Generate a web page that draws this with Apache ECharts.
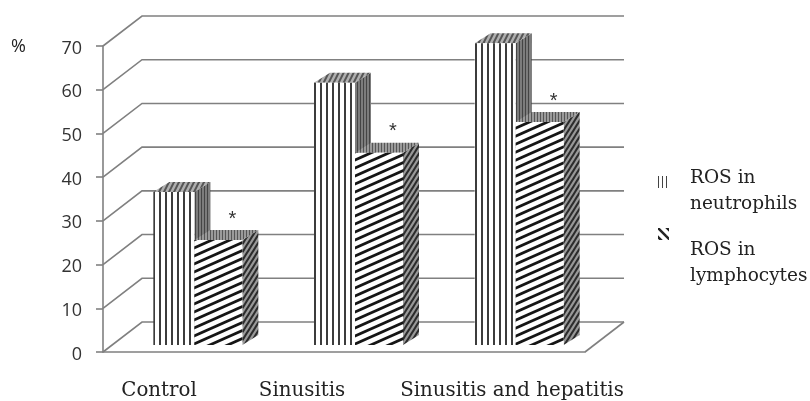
<!DOCTYPE html>
<html>
<head>
<meta charset="utf-8">
<style>
  html, body { margin: 0; padding: 0; background: #fff; }
  #chart { width: 810px; height: 401px; }
</style>
<script src="https://cdn.jsdelivr.net/npm/echarts@6/dist/echarts.min.js"></script>
</head>
<body>
<div id="chart"></div>
<script>
// data
const categories = ['Control', 'Sinusitis', 'Sinusitis and hepatitis'];
const neutrophils = [35, 60, 69];
const lymphocytes = [24, 44, 51];
const yTicks = [0, 10, 20, 30, 40, 50, 60, 70];
const seriesNames = ['ROS in\nneutrophils', 'ROS in\nlymphocytes'];

const GRAY = '#808080';
const WALL = [39, -30];      // depth of the back wall
const BAR_DEPTH = [16, -10]; // depth of one bar
const BAR_LIFT = -7;         // bars stand a little behind the front edge

// striped tiles
function tile(w, h, bg, draw) {
    let c = document.createElement('canvas');
    c.width = w;
    c.height = h;
    let ctx = c.getContext('2d');
    ctx.fillStyle = bg || '#fff';
    ctx.fillRect(0, 0, w, h);
    draw(ctx);
    return { image: c, repeat: 'repeat' };
}
function vStripes(period, width, color, bg) {
    return tile(period, 4, bg, function (ctx) {
        ctx.fillStyle = color;
        ctx.fillRect(0, 0, width, 4);
    });
}
function diagonal(w, h, lw, color, bg, down) {
    return tile(w, h, bg, function (ctx) {
        ctx.strokeStyle = color;
        ctx.lineWidth = lw;
        if (down) {
            ctx.translate(w, 0);
            ctx.scale(-1, 1);
        }
        for (let i = -1; i <= 1; i++) {
            ctx.beginPath();
            ctx.moveTo(-w, 2 * h + i * h);
            ctx.lineTo(2 * w, i * h - h);
            ctx.stroke();
        }
    });
}
const patterns = [
    {
        front: vStripes(6, 2, '#3c3c3c'),
        side: vStripes(3, 1, '#444', '#7c7c7c'),
        top: diagonal(5, 10, 2, '#555', '#b0b0b0'),
        key: vStripes(4, 1, '#444')
    },
    {
        front: diagonal(18, 8, 2.8, '#151515'),
        side: diagonal(5, 8, 2, '#2c2c2c', '#999'),
        top: vStripes(3, 1, '#555', '#9a9a9a'),
        key: diagonal(9, 9, 2.5, '#222', '#fff', true)
    }
];

// one 3d bar: front, top and side faces, placed with the axis scale
function barItem(leftOff, width, pat, star) {
    return function (params, api) {
        let idx = api.value(0);
        let top = api.coord([idx, api.value(1)]);
        let base = api.coord([idx, 0]);
        let x = top[0] + leftOff;
        let y = top[1] + BAR_LIFT;
        let h = base[1] + BAR_LIFT - y;
        let dx = BAR_DEPTH[0], dy = BAR_DEPTH[1];
        let shapes = [
            {
                type: 'polygon',
                shape: { points: [[x + width, y], [x + width + dx, y + dy], [x + width + dx, y + h + dy], [x + width, y + h]] },
                style: { fill: pat.side }
            },
            {
                type: 'polygon',
                shape: { points: [[x, y], [x + dx, y + dy], [x + width + dx, y + dy], [x + width, y]] },
                style: { fill: pat.top }
            },
            {
                type: 'rect',
                shape: { x: x, y: y, width: width, height: h },
                // start the stripes at the bar's own left edge
                style: { fill: Object.assign({}, pat.front, { x: Math.round(x), y: 0 }) }
            }
        ];
        if (star) {
            shapes.push({
                type: 'text',
                style: {
                    text: '*', x: x + width - 10, y: y - 21, fill: '#333',
                    font: '20px "Liberation Sans"', align: 'center', verticalAlign: 'middle'
                }
            });
        }
        return { type: 'group', children: shapes };
    };
}

// back wall lines, one per tick, plus the floor edge
function wallItem(params, api) {
    let v = api.value(0);
    let y = api.coord([0, v])[1];
    let left = params.coordSys.x;
    let right = left + params.coordSys.width;
    let children = [{
        type: 'polyline',
        shape: { points: [[left, y], [left + WALL[0], y + WALL[1]], [right + WALL[0], y + WALL[1]]] },
        style: { stroke: GRAY, lineWidth: 1.6, fill: 'none' }
    }];
    if (v === 0) {
        children.push({
            type: 'line',
            shape: { x1: right, y1: y, x2: right + WALL[0], y2: y + WALL[1] },
            style: { stroke: GRAY, lineWidth: 1.6 }
        });
    }
    return { type: 'group', children: children };
}

let myChart = echarts.init(document.getElementById('chart'));

function text(str, x, y, font, align, lineHeight) {
    return {
        type: 'text', x: x, y: y, z: 10,
        style: { text: str, font: font, fill: '#222', align: align || 'left', verticalAlign: 'top', lineHeight: lineHeight }
    };
}
const SERIF = '"DejaVu Serif"';
function swatch(x, y, pat) {
    return { type: 'rect', x: x, y: y, shape: { x: 0, y: 0, width: 11, height: 12 }, style: { fill: pat }, z: 10 };
}

let option = {
    animation: false,
    backgroundColor: '#fff',
    grid: { left: 103, top: 46, width: 482, height: 306 },
    xAxis: {
        type: 'category',
        data: categories,
        axisTick: { show: false },
        axisLabel: { show: false },
        axisLine: { lineStyle: { color: GRAY, width: 1.6 } }
    },
    yAxis: {
        type: 'value',
        min: 0,
        max: 70,
        interval: 10,
        splitLine: { show: false },
        axisLine: { show: true, lineStyle: { color: GRAY, width: 1.6 } },
        axisTick: { show: true, length: 7, lineStyle: { color: GRAY, width: 1.6 } },
        axisLabel: { color: '#333', fontSize: 18, fontFamily: 'Open Sans', margin: 21, verticalAlign: 'top', lineHeight: 5 }
    },
    graphic: [
        text('%', 11, 38, '18px "Open Sans"'),
        text(categories[0], 159, 381, '19.8px ' + SERIF, 'center'),
        text(categories[1], 302, 381, '19.8px ' + SERIF, 'center'),
        text(categories[2], 512, 381, '19.8px ' + SERIF, 'center'),
        swatch(658, 176, patterns[0].key),
        swatch(658, 228, patterns[1].key),
        text(seriesNames[0], 690, 165, '18.5px ' + SERIF, 'left', 26),
        text(seriesNames[1], 690, 237, '18.5px ' + SERIF, 'left', 26)
    ],
    series: [
        {
            name: 'wall',
            type: 'custom',
            data: yTicks.map(function (v) { return [v]; }),
            encode: { y: 0 },
            renderItem: wallItem,
            z: 1,
            silent: true
        },
        {
            name: 'neutrophils',
            type: 'custom',
            data: neutrophils.map(function (v, i) { return [i, v]; }),
            encode: { x: 0, y: 1 },
            renderItem: barItem(-30, 41, patterns[0], false),
            z: 2
        },
        {
            name: 'lymphocytes',
            type: 'custom',
            data: lymphocytes.map(function (v, i) { return [i, v]; }),
            encode: { x: 0, y: 1 },
            renderItem: barItem(11, 48, patterns[1], true),
            z: 3
        }
    ]
};
myChart.setOption(option);
</script>
</body>
</html>
